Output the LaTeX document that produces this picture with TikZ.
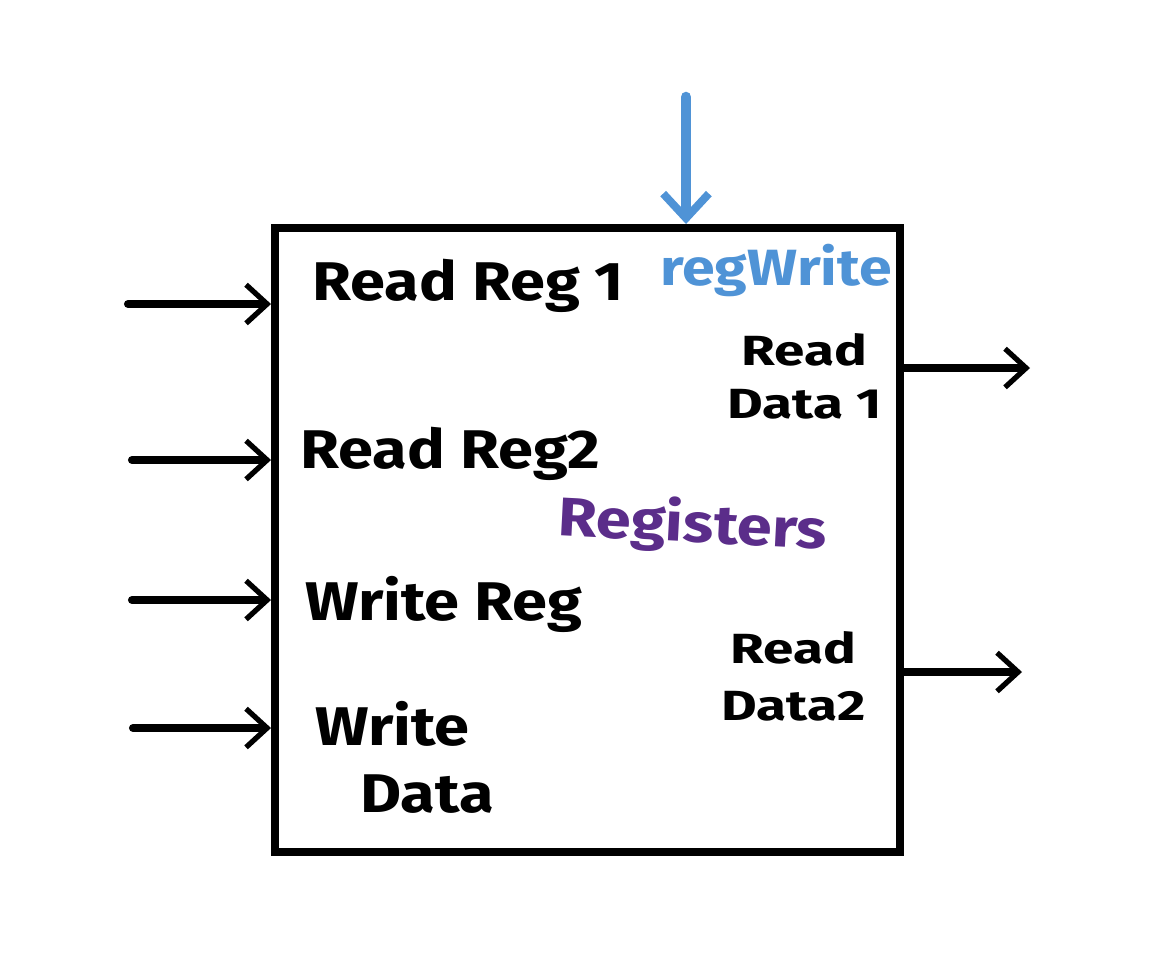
\documentclass[tikz,border=0pt]{standalone}
\usepackage{fontspec}
\setmainfont{Fira Sans}
\newfontfamily\handA{Fira Sans}[FakeStretch=1.16]
\newfontfamily\handB{Fira Sans}[FakeStretch=1.3]
\usetikzlibrary{arrows.meta}
\definecolor{penblue}{HTML}{4F93D6}
\definecolor{penpurple}{HTML}{5B2D8A}
\tikzset{
  wire/.style={line width=4.6pt, line cap=round, -{Straight Barb[length=12pt,width=22pt,line width=3pt]}},
  ctlwire/.style={penblue, line width=6pt, line cap=round, -{Straight Barb[length=14pt,width=26pt,line width=4.5pt]}},
  regbox/.style={draw, line width=4.6pt, minimum width=12.5cm, minimum height=12.48cm, inner sep=0pt},
  lbl/.style={font=\handA\fontsize{31}{36}\selectfont\bfseries, inner sep=0pt},
  smalllbl/.style={font=\handB\fontsize{24}{28}\selectfont\bfseries, inner sep=0pt, align=center},
}
\begin{document}
\begin{tikzpicture}[x=0.02cm,y=-0.02cm]
\useasboundingbox (0,0) rectangle (1168,967);
\node[regbox] (reg) at (587.5,540) {};
% labels
\node[lbl, anchor=base west] (rr1) at (312,300) {Read Reg 1};
\node[lbl, anchor=base west] (rr2) at (300,468) {Read Reg2};
\node[lbl, anchor=base west] (wr) at (305,620) {Write Reg};
\node[lbl, anchor=base west, align=left] (wd) at (315,812) {Write\\[2pt]\hspace*{0.9cm}Data};
\node[lbl, anchor=base west, text=penblue, font=\handA\fontsize{29}{34}\selectfont\bfseries] (rw) at (660,285) {regWrite};
\node[smalllbl, anchor=base east] (rd1) at (882,418) {Read\\[2pt]Data 1};
\node[smalllbl, anchor=base east] (rd2) at (866,720) {Read\\[4pt]Data2};
\node[lbl, anchor=base west, text=penpurple, rotate=-3] (title) at (557,535) {Registers};
% free ends
\coordinate (i1) at (128,304);
\coordinate (i2) at (132,460);
\coordinate (i3) at (132,600);
\coordinate (i4) at (133,728);
\coordinate (o1) at (1030,368);
\coordinate (o2) at (1022,672);
\coordinate (c1) at (686,97);
% connectors
\draw[wire] (i1) -- (reg.west |- i1);
\draw[wire] (i2) -- (reg.west |- i2);
\draw[wire] (i3) -- (reg.west |- i3);
\draw[wire] (i4) -- (reg.west |- i4);
\draw[wire] (reg.east |- o1) -- (o1);
\draw[wire] (reg.east |- o2) -- (o2);
\draw[ctlwire] (c1) -- (reg.north -| c1);
\end{tikzpicture}
\end{document}
